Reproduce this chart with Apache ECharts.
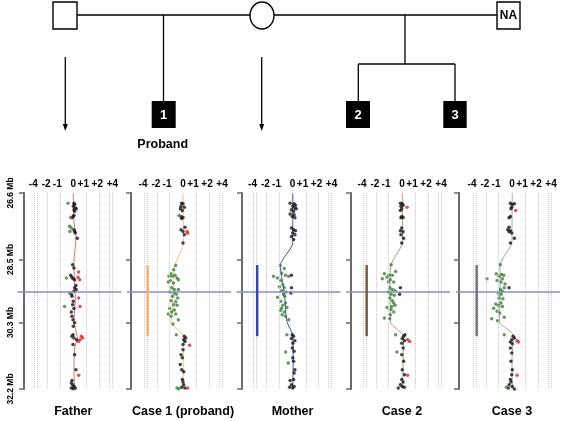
<!DOCTYPE html>
<html>
<head>
<meta charset="utf-8">
<script src="https://cdn.jsdelivr.net/npm/echarts@6/dist/echarts.min.js"></script>
<style>html,body{margin:0;padding:0;background:#fff;}#c{width:586px;height:421px;}</style>
</head>
<body>
<div id="c"></div>
<script>
// ---------- data ----------
const panelNames = ['Father', 'Case 1 (proband)', 'Mother', 'Case 2', 'Case 3'];
const mbTicks = [26.6, 28.5, 30.3, 32.2];
const ratioTickLabels = ['-4', '-2', '-1', '0', '+1', '+2', '+4'];
const ratioTickPos = [-3.0, -2.03, -1.2, 0, 0.75, 1.8, 2.93];
const ratioGridLines = [-2.93, -2.7, -1.95, -1.0, 1.0, 1.95, 2.7, 2.93];
const breakpointMb = 29.43;
const cnvRange = [28.66, 30.69];
const cnvRatio = -2.65;

const fatherBlack = [[0.05,26.89],[0.10,26.93],[0.0,26.98],[0.15,27.03],[0.05,27.08],[0.22,27.05],[0.10,27.12],[-0.02,27.27],[0.05,27.24],[-0.10,27.31],[0.05,27.65],[0.10,27.70],[0.15,27.74],[0.30,27.89],[-0.05,28.65],[0.05,28.74],[-0.20,28.95],[-0.10,29.01],[-0.02,29.05],[0.10,29.08],[0.20,29.24],[0.10,29.31],[0.22,29.36],[0.05,29.41],[-0.15,29.49],[-0.10,29.55],[0.0,29.69],[-0.05,29.79],[0.05,29.90],[-0.15,30.00],[-0.10,30.12],[-0.02,30.22],[0.10,30.31],[0.0,30.41],[-0.02,30.65],[-0.10,30.69],[0.05,30.74],[0.25,30.79],[-0.02,30.93],[0.10,31.22],[0.20,31.65],[-0.10,31.96],[-0.15,32.03],[-0.05,32.08],[0.05,32.12],[-0.15,32.17],[0.0,32.19],[0.15,32.17]];
const fatherGreen = [[-0.40,26.89],[-0.20,27.30],[-0.28,27.55],[-0.15,27.60],[-0.25,27.70],[-0.52,29.03],[-0.28,29.46],[-0.65,29.84]];
const fatherRed = [[0.40,28.86],[0.35,29.01],[0.48,29.08],[0.40,29.60],[0.50,29.84],[0.60,30.69],[0.70,30.74],[0.50,30.79],[0.40,30.84],[0.40,31.81],[0.40,32.22]];
const fatherTrend = [[0,26.6],[0.05,27.41],[0.2,27.89],[0.05,28.55],[0.1,29.22],[0.15,29.60],[0.05,30.27],[0.3,30.74],[0.1,31.03],[0.05,31.70],[0.1,32.2]];

const case1Black = [[-0.10,26.89],[0,26.91],[-0.15,26.98],[0.10,27.01],[-0.20,27.05],[-0.05,27.10],[-0.15,27.27],[0,27.30],[-0.10,27.33],[0.15,27.58],[-0.15,27.65],[0,27.70],[0.10,27.79],[0,28.03],[0.10,30.69],[0.20,30.74],[0.05,30.79],[0.15,30.84],[0,30.93],[0,31.08],[-0.15,31.22],[-0.05,31.31],[-0.20,31.50],[-0.10,31.65],[0.05,31.71],[-0.05,31.93],[0,32.00],[0.05,32.08],[-0.10,32.15],[0.15,32.17]];
const case1Green = [[-0.30,27.24],[-0.55,28.67],[-0.70,28.79],[-0.90,28.91],[-1.05,28.98],[-0.80,28.98],[-0.60,28.95],[-0.45,29.03],[-0.95,29.10],[-1.10,29.14],[-0.72,29.17],[-0.35,29.08],[-0.85,29.31],[-0.65,29.36],[-0.35,29.36],[-0.98,29.43],[-0.65,29.46],[-0.50,29.49],[-0.80,29.55],[-0.40,29.60],[-0.90,29.68],[-0.55,29.71],[-0.72,29.79],[-0.45,29.81],[-1.00,29.90],[-0.65,29.94],[-0.85,30.00],[-1.10,30.06],[-0.90,30.12],[-0.55,30.06],[-0.35,30.22],[-0.75,30.34],[-0.50,30.65],[-0.45,32.17],[-0.30,32.19]];
const case1Red = [[0.30,27.70],[0.35,27.75],[0.50,30.95],[0.35,32.17]];
const case1Trend = [[0,26.6],[0,27.2],[0.05,27.9],[0.02,28.1],[-0.65,28.7],[-0.7,29.1],[-0.75,29.5],[-0.8,29.9],[-0.9,30.3],[0.05,30.7],[0.05,31.3],[0.05,32.2]];

const motherBlack = [[-0.18,26.89],[0.12,26.91],[0.22,26.95],[0.02,26.98],[0.18,27.03],[-0.08,27.08],[0.28,27.05],[0.08,27.12],[-0.18,27.20],[0.12,27.22],[-0.02,27.27],[0.18,27.31],[-0.08,27.60],[0.08,27.65],[0.22,27.68],[0.02,27.74],[0.18,27.79],[-0.08,27.84],[0.08,27.93],[-0.08,28.95],[-0.08,29.31],[-0.12,29.46],[-0.02,30.65],[0.08,30.69],[-0.08,30.76],[0.18,30.82],[0.02,30.89],[-0.02,31.03],[0.12,31.12],[0.02,31.31],[0.08,31.41],[0.18,31.65],[0.12,31.74],[0.08,31.93],[-0.18,31.96],[-0.08,32.08],[-0.22,32.15],[0.02,32.17],[0.12,32.13]];
const motherGreen = [[-0.92,28.67],[-0.62,28.76],[-0.82,28.89],[-1.42,28.98],[-1.12,29.03],[-0.52,28.95],[-0.88,29.10],[-0.28,28.98],[-0.72,29.22],[-0.98,29.28],[-0.62,29.31],[-0.82,29.39],[-0.48,29.43],[-0.68,29.49],[-1.12,29.58],[-0.58,29.55],[-0.88,29.69],[-0.52,29.74],[-0.72,29.81],[-0.82,29.89],[-0.42,29.87],[-0.92,29.96],[-0.62,30.00],[-0.78,30.08],[-0.52,30.12],[-0.28,30.22],[-0.42,30.65],[-0.52,31.14],[-0.32,31.46]];
const motherRed = [];
const motherTrend = [[0.02,26.6],[0.02,27.5],[0.02,28.03],[-0.92,28.67],[-0.68,29.31],[-0.58,29.6],[-0.42,30.27],[0,30.65],[0.05,31.4],[0.02,32.2]];

const case2Black = [[-0.12,26.89],[0.02,26.91],[-0.08,26.98],[0.08,26.95],[-0.02,27.05],[-0.12,27.10],[-0.02,27.27],[-0.08,27.31],[0.08,27.30],[-0.02,27.60],[-0.12,27.68],[0.08,27.71],[-0.08,27.79],[0.12,27.89],[-0.02,28.03],[-0.12,29.31],[-0.18,29.49],[0.12,30.69],[0.22,30.65],[0.02,30.76],[0.18,30.82],[-0.02,30.89],[0.08,31.03],[-0.02,31.22],[0.12,31.41],[0.02,31.65],[0.18,31.79],[-0.02,31.93],[0.08,32.00],[-0.12,32.08],[0.02,32.13],[-0.28,32.17],[0.18,32.15]];
const case2Green = [[-0.82,28.65],[-0.48,28.84],[-1.32,28.91],[-0.98,28.95],[-0.72,28.95],[-1.48,29.05],[-1.12,29.01],[-0.88,29.08],[-1.02,29.14],[-0.62,29.14],[-0.92,29.31],[-0.72,29.36],[-1.02,29.43],[-0.52,29.39],[-0.82,29.49],[-0.58,29.52],[-0.92,29.60],[-0.72,29.68],[-0.62,29.74],[-1.12,29.87],[-0.78,29.84],[-0.52,29.81],[-0.82,29.93],[-0.62,30.00],[-0.88,30.08],[-1.32,30.17],[-0.92,30.19],[-0.48,30.65],[-0.38,31.14]];
const case2Red = [[0.38,27.01],[0.42,30.79],[0.58,30.84],[0.42,31.81],[0.38,32.22]];
const case2Trend = [[0.02,26.6],[0.05,27.6],[0.05,28.0],[-0.82,28.65],[-0.9,29.3],[-0.88,29.9],[-0.85,30.3],[0.12,30.7],[0.08,31.5],[0.05,32.2]];

const case3Black = [[-0.12,26.89],[0.02,26.93],[0.18,26.91],[-0.02,27.01],[-0.08,27.05],[-0.12,27.27],[-0.22,27.31],[-0.22,27.58],[-0.32,27.65],[-0.12,27.68],[-0.22,27.71],[-0.02,27.74],[0.18,27.89],[-0.12,28.03],[-0.22,29.31],[0.08,30.69],[0.18,30.74],[-0.02,30.79],[-0.12,30.86],[0.02,30.91],[-0.12,31.03],[-0.02,31.17],[-0.08,31.41],[0.02,31.65],[-0.02,31.79],[-0.12,31.93],[-0.08,32.00],[-0.22,32.08],[0.02,32.13],[0.18,32.2],[-0.28,32.17]];
const case3Green = [[-0.88,28.65],[-1.18,28.91],[-0.78,28.93],[-0.62,28.95],[-0.98,28.98],[-0.72,29.05],[-1.88,29.05],[-1.12,29.10],[-0.82,29.14],[-0.52,29.20],[-0.88,29.36],[-0.72,29.41],[-1.02,29.46],[-0.82,29.49],[-0.58,29.31],[-0.98,29.60],[-0.68,29.62],[-1.22,29.77],[-0.82,29.74],[-1.02,29.81],[-1.38,29.89],[-0.72,29.84],[-1.12,29.98],[-0.92,30.03],[-1.52,30.19],[-1.08,30.25],[-0.58,30.15],[-0.58,30.65],[-0.42,32.15]];
const case3Red = [[0.28,27.10],[0.38,30.82],[0.48,30.86],[0.38,31.81]];
const case3Trend = [[0.02,26.6],[0.0,27.5],[0.0,28.0],[-0.9,28.66],[-0.9,29.4],[-0.95,30.28],[0.1,30.66],[0.0,31.4],[0.02,32.2]];

// ---------- layout / style ----------
const zeroX = [73.3, 183, 292.5, 402, 512];
const axisX = [24, 131, 242, 351, 459];
const PX_PER_UNIT = 13.33;
const X_MIN = -4.2, X_MAX = 3.6;
const GRID_TOP = 193, GRID_H = 196;
const trendColors = ['#d27474', '#eec08e', '#4b50a2', '#a89a84', '#a6a6a6'];
const cnvColors = [null, '#f2b070', '#3b46a6', '#7a5c3e', '#747474'];
const FONT = '"Liberation Sans", Arial, Helvetica, sans-serif';

const panels = [
  {black: fatherBlack, green: fatherGreen, red: fatherRed, trend: fatherTrend, cnv: false},
  {black: case1Black, green: case1Green, red: case1Red, trend: case1Trend, cnv: true},
  {black: motherBlack, green: motherGreen, red: motherRed, trend: motherTrend, cnv: true},
  {black: case2Black, green: case2Green, red: case2Red, trend: case2Trend, cnv: true},
  {black: case3Black, green: case3Green, red: case3Red, trend: case3Trend, cnv: true}
];

const grids = [], xAxes = [], yAxes = [], series = [], graphics = [];

panels.forEach((p, i) => {
  const left = zeroX[i] + X_MIN * PX_PER_UNIT;
  grids.push({left: left, top: GRID_TOP, width: (X_MAX - X_MIN) * PX_PER_UNIT, height: GRID_H, outerBoundsMode: 'none', containLabel: false});
  xAxes.push({
    gridIndex: i, type: 'value', min: X_MIN, max: X_MAX, position: 'top',
    axisLine: {show: false, onZero: false}, axisTick: {show: false}, splitLine: {show: false},
    axisLabel: {
      customValues: ratioTickPos, margin: 4, fontSize: 10, fontWeight: 'bold', color: '#000', fontFamily: FONT,
      formatter: v => {
        let best = 0;
        ratioTickPos.forEach((t, k) => { if (Math.abs(t - v) < Math.abs(ratioTickPos[best] - v)) best = k; });
        return ratioTickLabels[best];
      }
    }
  });
  yAxes.push({
    gridIndex: i, type: 'value', inverse: true, min: mbTicks[0], max: mbTicks[mbTicks.length - 1],
    position: 'left',
    offset: -(axisX[i] - left),
    axisLine: {show: true, onZero: false, lineStyle: {color: '#6b6b6b', width: 2}},
    axisTick: {show: true, customValues: mbTicks, length: 5, lineStyle: {color: '#6b6b6b', width: 1.5}},
    splitLine: {show: false},
    axisLabel: {
      show: i === 0, customValues: mbTicks, rotate: 90, margin: 9,
      fontSize: 8.5, fontWeight: 'bold', color: '#000', fontFamily: FONT,
      formatter: v => v.toFixed(1) + ' Mb'
    }
  });

  series.push({
    type: 'line', xAxisIndex: i, yAxisIndex: i, data: p.trend, smooth: 0.2,
    showSymbol: false, silent: true, z: 2,
    lineStyle: {color: trendColors[i], width: 1},
    markLine: {
      silent: true, symbol: 'none', label: {show: false}, animation: false,
      data: [
        ...ratioGridLines.map(v => ({xAxis: v, lineStyle: {type: 'dotted', color: '#c8c8c8', width: 1}})),
        {yAxis: breakpointMb, lineStyle: {type: 'solid', color: '#8a8fc6', width: 1.5}}
      ]
    }
  });
  if (p.cnv) {
    series.push({
      type: 'line', xAxisIndex: i, yAxisIndex: i, showSymbol: false, silent: true, z: 10,
      data: [[cnvRatio, cnvRange[0]], [cnvRatio, cnvRange[1]]],
      lineStyle: {color: cnvColors[i], width: 2.5}
    });
  }
  [['black', '#161616'], ['green', '#3f7f3a'], ['red', '#d8262a']].forEach(([k, c]) => {
    series.push({
      type: 'scatter', xAxisIndex: i, yAxisIndex: i, data: p[k], symbolSize: 3.5, z: 4,
      itemStyle: {color: c}, silent: true
    });
  });

  graphics.push({
    type: 'text', x: zeroX[i], y: 412,
    style: {text: panelNames[i], fill: '#000', font: 'bold 12.5px ' + FONT, align: 'center', verticalAlign: 'middle'}
  });
});

// ---------- pedigree ----------
const LS = {stroke: '#000', lineWidth: 1.3};
function ln(x1, y1, x2, y2) { return {type: 'line', shape: {x1, y1, x2, y2}, style: LS}; }
graphics.push(
  ln(77, 15, 250, 15), ln(274, 15, 497, 15),
  ln(163.5, 15, 163.5, 101),
  ln(405, 15, 405, 64), ln(358.3, 64, 455, 64),
  ln(358.3, 64, 358.3, 101), ln(455, 64, 455, 101),
  ln(65.3, 57, 65.3, 126), ln(261.7, 57, 261.7, 126),
  {type: 'polygon', shape: {points: [[62.8, 124], [67.8, 124], [65.3, 131]]}, style: {fill: '#000'}},
  {type: 'polygon', shape: {points: [[259.2, 124], [264.2, 124], [261.7, 131]]}, style: {fill: '#000'}},
  {type: 'rect', shape: {x: 53, y: 2, width: 24, height: 27}, style: {fill: '#fff', stroke: '#000', lineWidth: 1.4}},
  {type: 'ellipse', shape: {cx: 262, cy: 15.5, rx: 12, ry: 13.5}, style: {fill: '#fff', stroke: '#000', lineWidth: 1.4}},
  {type: 'rect', shape: {x: 497, y: 2, width: 23, height: 27}, style: {fill: '#fff', stroke: '#000', lineWidth: 1.4}},
  {type: 'text', x: 508.5, y: 16, style: {text: 'NA', fill: '#000', font: 'bold 12px ' + FONT, align: 'center', verticalAlign: 'middle'}},
  {type: 'rect', shape: {x: 151.7, y: 101, width: 24, height: 27}, style: {fill: '#000'}},
  {type: 'text', x: 163.7, y: 115, style: {text: '1', fill: '#fff', font: 'bold 13px ' + FONT, align: 'center', verticalAlign: 'middle'}},
  {type: 'rect', shape: {x: 346, y: 101, width: 24, height: 27}, style: {fill: '#000'}},
  {type: 'text', x: 358, y: 115, style: {text: '2', fill: '#fff', font: 'bold 13px ' + FONT, align: 'center', verticalAlign: 'middle'}},
  {type: 'rect', shape: {x: 443.3, y: 101, width: 23.4, height: 27}, style: {fill: '#000'}},
  {type: 'text', x: 455, y: 115, style: {text: '3', fill: '#fff', font: 'bold 13px ' + FONT, align: 'center', verticalAlign: 'middle'}},
  {type: 'text', x: 162.7, y: 145, style: {text: 'Proband', fill: '#000', font: 'bold 12.5px ' + FONT, align: 'center', verticalAlign: 'middle'}}
);

const chart = echarts.init(document.getElementById('c'), null, {renderer: 'canvas'});
chart.setOption({
  animation: false,
  backgroundColor: '#fff',
  grid: grids, xAxis: xAxes, yAxis: yAxes, series: series,
  graphic: graphics
});
</script>
</body>
</html>
